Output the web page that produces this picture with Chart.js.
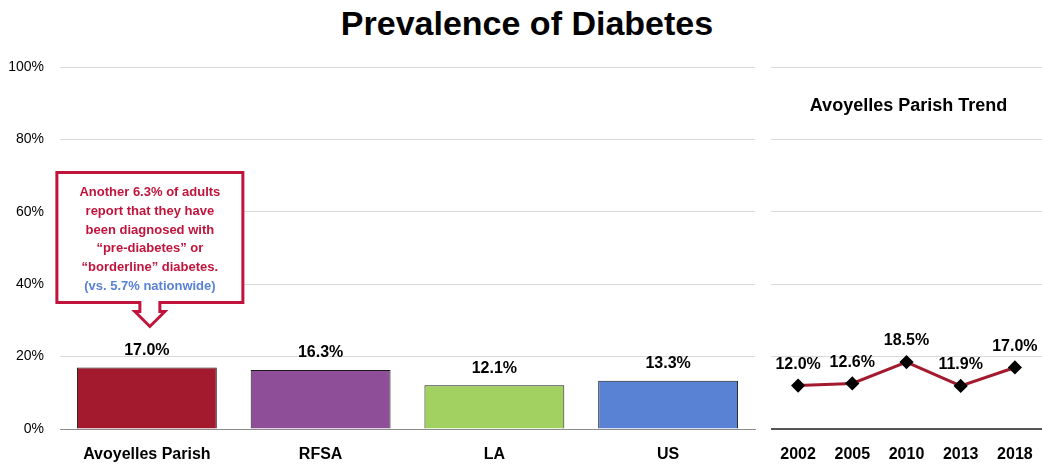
<!DOCTYPE html>
<html>
<head>
<meta charset="utf-8">
<script src="https://cdn.jsdelivr.net/npm/chart.js@4.4.1/dist/chart.umd.min.js"></script>
<style>
  body { margin: 0; background: #fff; width: 1042px; height: 466px; overflow: hidden; position: relative; }
  #title { position: absolute; left: 0; top: 4px; width: 1054px; text-align: center;
           font: bold 34px "Liberation Sans", Arial, sans-serif; color: #000; }
  #left { position: absolute; left: 0; top: 0; width: 760px; height: 466px; }
  #right { position: absolute; left: 771px; top: 0; width: 271px; height: 466px; }
</style>
</head>
<body>
<div id="title">Prevalence of Diabetes</div>
<div id="left"><canvas id="barChart"></canvas></div>
<div id="right"><canvas id="lineChart"></canvas></div>
<script>
const areas = ["Avoyelles Parish", "RFSA", "LA", "US"];
const areaValues = [17.0, 16.3, 12.1, 13.3];
const areaColors = ["#A31A2E", "#8E4E98", "#A2D162", "#5A82D4"];

const years = ["2002", "2005", "2010", "2013", "2018"];
const trendValues = [12.0, 12.6, 18.5, 11.9, 17.0];

const yMin = 0;
const yMax = 100;
const yStep = 20;

const calloutLines = [
    "Another 6.3% of adults",
    "report that they have",
    "been diagnosed with",
    "\u201cpre-diabetes\u201d or",
    "\u201cborderline\u201d diabetes.",
    "(vs. 5.7% nationwide)"
];
const calloutColors = ["#C0143C", "#C0143C", "#C0143C", "#C0143C", "#C0143C", "#5A82D4"];
const trendTitle = "Avoyelles Parish Trend";

const fontFamily = '"Liberation Sans", Arial, sans-serif';
Chart.defaults.font.family = fontFamily;
Chart.defaults.color = "#000";

const gridColor = "#d9d9d9";

// value labels above bars / points
let valueLabels = {
    id: "valueLabels",
    afterDatasetsDraw(chart, args, opts) {
        const {ctx} = chart;
        const meta = chart.getDatasetMeta(0);
        const data = chart.data.datasets[0].data;
        ctx.save();
        ctx.font = "bold 16px " + fontFamily;
        ctx.fillStyle = "#000";
        ctx.textAlign = "center";
        ctx.textBaseline = "middle";
        meta.data.forEach((el, i) => {
            ctx.fillText(data[i].toFixed(1) + "%", el.x, el.y - opts.offset);
        });
        ctx.restore();
    }
};

let calloutBox = {
    id: "calloutBox",
    afterDatasetsDraw(chart) {
        const {ctx} = chart;
        const el = chart.getDatasetMeta(0).data[0];
        const cx = el.x + 3;
        const tip = el.y - 41;
        const bottom = tip - 24;
        const top = bottom - 130;
        const left = cx - 93;
        const right = cx + 93;
        ctx.save();
        ctx.beginPath();
        ctx.moveTo(left, top);
        ctx.lineTo(right, top);
        ctx.lineTo(right, bottom);
        ctx.lineTo(cx + 10, bottom);
        ctx.lineTo(cx + 10, bottom + 9);
        ctx.lineTo(cx + 15, bottom + 9);
        ctx.lineTo(cx, tip);
        ctx.lineTo(cx - 15, bottom + 9);
        ctx.lineTo(cx - 10, bottom + 9);
        ctx.lineTo(cx - 10, bottom);
        ctx.lineTo(left, bottom);
        ctx.closePath();
        ctx.fillStyle = "#fff";
        ctx.fill();
        ctx.lineWidth = 3;
        ctx.strokeStyle = "#C0143C";
        ctx.stroke();
        ctx.font = "bold 13px " + fontFamily;
        ctx.textAlign = "center";
        ctx.textBaseline = "middle";
        calloutLines.forEach((line, i) => {
            ctx.fillStyle = calloutColors[i];
            ctx.fillText(line, cx, top + 20 + i * 18.8);
        });
        ctx.restore();
    }
};

let trendHeading = {
    id: "trendHeading",
    afterDraw(chart) {
        const {ctx, chartArea: {left, right, top}} = chart;
        ctx.save();
        ctx.font = "bold 18px " + fontFamily;
        ctx.fillStyle = "#000";
        ctx.textAlign = "center";
        ctx.textBaseline = "middle";
        ctx.fillText(trendTitle, (left + right) / 2 + 2, top + 39);
        ctx.restore();
    }
};

new Chart(document.getElementById("barChart"), {
    type: "bar",
    data: {
        labels: areas,
        datasets: [{
            data: areaValues,
            backgroundColor: areaColors,
            borderColor: "#1a1a1a",
            borderWidth: 1,
            categoryPercentage: 1,
            barPercentage: 0.805
        }]
    },
    options: {
        responsive: true,
        maintainAspectRatio: false,
        animation: false,
        layout: {autoPadding: false, padding: {top: 67, right: 5, left: 0, bottom: 0}},
        plugins: {
            legend: {display: false},
            tooltip: {enabled: false},
            valueLabels: {offset: 17}
        },
        scales: {
            x: {
                grid: {display: false},
                border: {color: "#8c8c8c", width: 1},
                ticks: {font: {size: 16, weight: "bold"}, padding: 8, color: "#000"},
                afterFit: (scale) => { scale.height = 37; }
            },
            y: {
                min: yMin,
                max: yMax,
                ticks: {
                    stepSize: yStep,
                    padding: 16,
                    font: {size: 14},
                    color: "#000",
                    callback: (v) => v + "%"
                },
                grid: {color: gridColor, drawTicks: false},
                border: {display: false},
                afterFit: (scale) => { scale.width = 60; }
            }
        }
    },
    plugins: [valueLabels, calloutBox]
});

new Chart(document.getElementById("lineChart"), {
    type: "line",
    data: {
        labels: years,
        datasets: [{
            data: trendValues,
            borderColor: "#A31A2E",
            borderWidth: 3,
            pointStyle: "rectRot",
            pointRadius: 5,
            pointBackgroundColor: "#000",
            pointBorderColor: "#000",
            tension: 0
        }]
    },
    options: {
        responsive: true,
        maintainAspectRatio: false,
        animation: false,
        layout: {autoPadding: false, padding: {top: 67, right: 0, left: 0, bottom: 0}},
        plugins: {
            legend: {display: false},
            tooltip: {enabled: false},
            valueLabels: {offset: 21}
        },
        scales: {
            x: {
                offset: true,
                grid: {display: false},
                border: {color: "#555", width: 2},
                ticks: {font: {size: 16, weight: "bold"}, padding: 8, color: "#000"},
                afterFit: (scale) => { scale.height = 37; }
            },
            y: {
                min: yMin,
                max: yMax,
                ticks: {stepSize: yStep, display: false},
                grid: {color: gridColor, drawTicks: false},
                border: {display: false},
                afterFit: (scale) => { scale.width = 0; }
            }
        }
    },
    plugins: [valueLabels, trendHeading]
});
</script>
</body>
</html>
